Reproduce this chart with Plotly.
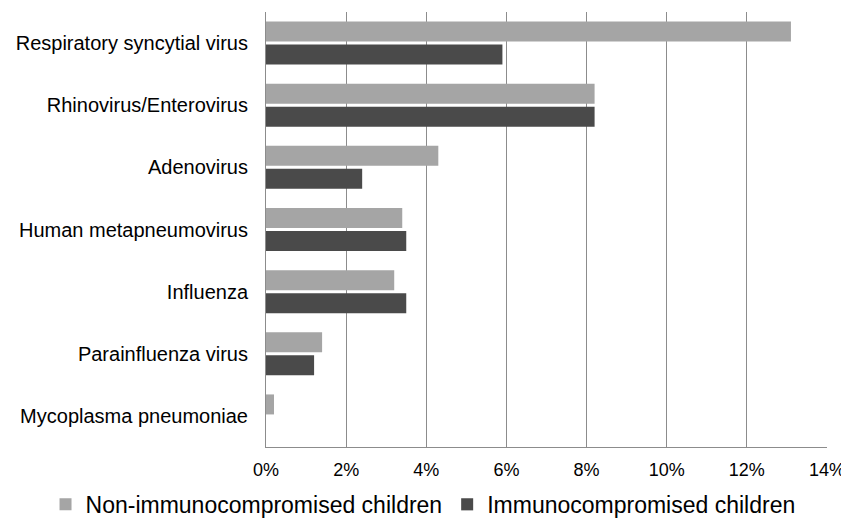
import plotly.graph_objects as go

categories = ["Respiratory syncytial virus", "Rhinovirus/Enterovirus", "Adenovirus",
              "Human metapneumovirus", "Influenza", "Parainfluenza virus", "Mycoplasma pneumoniae"]
non_immuno = [13.1, 8.2, 4.3, 3.4, 3.2, 1.4, 0.2]
immuno = [5.9, 8.2, 2.4, 3.5, 3.5, 1.2, 0.0]
tick_vals = [0, 2, 4, 6, 8, 10, 12, 14]
tick_text = ["0%", "2%", "4%", "6%", "8%", "10%", "12%", "14%"]

fig = go.Figure()
fig.add_trace(go.Bar(y=categories, x=non_immuno, orientation="h",
                     name="Non-immunocompromised children",
                     marker=dict(color="#a5a5a5", line=dict(width=0))))
fig.add_trace(go.Bar(y=categories, x=immuno, orientation="h",
                     name="Immunocompromised children",
                     marker=dict(color="#4a4a4a", line=dict(width=0))))

# page body adds an 8px offset; size the figure so the plot lands where the reference has it
fig.update_layout(
    width=841, height=512,
    margin=dict(l=258, r=22, t=4, b=73, autoexpand=False),
    barmode="group", bargap=0.26, bargroupgap=0.13,
    plot_bgcolor="white", paper_bgcolor="white",
    font=dict(family="Liberation Sans, Arial, sans-serif", color="#000000"),
    xaxis=dict(range=[0, 14], tickvals=tick_vals, ticktext=tick_text,
               showgrid=True, gridcolor="#8c8c8c", gridwidth=1,
               showline=True, linecolor="#8c8c8c", linewidth=1,
               ticks="", tickfont=dict(size=18), zeroline=False,
               ticklabelstandoff=6, automargin=False),
    yaxis=dict(autorange="reversed", showline=True, linecolor="#8c8c8c", linewidth=1,
               ticks="", tickfont=dict(size=20), ticklabelstandoff=13, showgrid=False,
               automargin=False),
    legend=dict(orientation="h", x=-0.393, xanchor="left", y=-0.132, yanchor="middle",
                font=dict(size=23), itemwidth=30, traceorder="normal",
                bgcolor="rgba(0,0,0,0)"),
    showlegend=True,
)

fig.write_html("out.html")
